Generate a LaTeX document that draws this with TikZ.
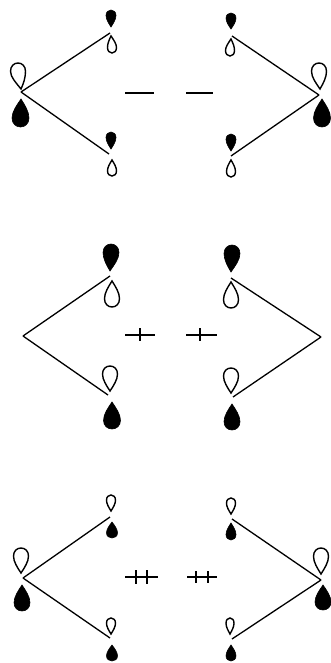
\documentclass[tikz,border=0pt]{standalone}
\usetikzlibrary{calc}
\tikzset{
  bond/.style={draw=black,line width=1.3pt},
  mark bar/.style={draw=black,line width=1.2pt},
  lobe open/.style={draw=black,line width=1.4pt,fill=white},
  lobe full/.style={draw=black,line width=0.6pt,fill=black}
}
% apex x, apex y, centre x, far end y, width, style
\newcommand{\lobe}[6]{
  \draw[#6] (#1,#2) .. controls ({#1+0.3*(#3-#1)-0.24*#5},{#2+0.22*(#4-#2)}) and ({#3-0.5*#5},{#2+0.45*(#4-#2)}) .. ({#3-0.5*#5},{#2+0.68*(#4-#2)})
    .. controls ({#3-0.5*#5},{#2+0.88*(#4-#2)}) and ({#3-0.27*#5},#4) .. (#3,#4)
    .. controls ({#3+0.27*#5},#4) and ({#3+0.5*#5},{#2+0.88*(#4-#2)}) .. ({#3+0.5*#5},{#2+0.68*(#4-#2)})
    .. controls ({#3+0.5*#5},{#2+0.45*(#4-#2)}) and ({#1+0.3*(#3-#1)+0.24*#5},{#2+0.22*(#4-#2)}) .. (#1,#2) -- cycle;
}
\begin{document}
\begin{tikzpicture}[x=1pt,y=-1pt]
\useasboundingbox (0,0) rectangle (331,663);
% ---- bond ends ----
\foreach \n/\x/\y in {A/21/92,At/110/33,Ab/109/154,Bv/319/95,Bt/232/36,Bb/231/156,
    C/23/336,Ct/110/276,Cb/108/395,Dv/321/337,Dt/231/278,Db/233/397,
    E/23/578,Et/110/517,Eb/110/638,Fv/321/580,Ft/232/519,Fb/232/639}{
  \coordinate (\n) at (\x,\y);}
\foreach \a/\b in {A/At,A/Ab,Bv/Bt,Bv/Bb,C/Ct,C/Cb,Dv/Dt,Dv/Db,E/Et,E/Eb,Fv/Ft,Fv/Fb}{
  \draw[bond] (\a)--(\b);}
% ---- top row ----
\foreach \x/\y/\c/\e/\w/\st in {21/89/18/63/15/open,21/99/20.5/127/17/full,
    111/27/111/10/10/full,111/36/112/53/9/open,111/149/111/132/10/full,112/160/112/176/9/open,
    231/29/231/13/10/full,231/39/230/56/9/open,231/151/231/134/10/full,231/160/231/177/9/open,
    320/89/319/63/15/open,322/99/322/127/17/full}{
  \lobe{\x}{\y}{\c}{\e}{\w}{lobe \st}}
% ---- middle row ----
\foreach \x/\y/\c/\e/\w/\st in {110/271/111/244/16/full,112/281/112/307/15/open,
    110/391/110/366/15/open,112/402/112/429/17/full,
    231/272/232/245/16/full,231/282/231/308/15/open,
    231/393/231/368/15/open,232/404/232/430/16/full}{
  \lobe{\x}{\y}{\c}{\e}{\w}{lobe \st}}
% ---- bottom row ----
\foreach \x/\y/\c/\e/\w/\st in {21/573/21/548/15/open,22/585/22/611/16/full,
    111/511/111/495/9/open,112/522/112/538/11/full,111/634/111/618/9/open,112/645/112/661/11/full,
    231/514/231/498/9/open,231/523/231/540/10/full,230/634/230/618/8/open,231/645/231/661/10/full,
    321/574/321/548/15/open,323/585/323/610/16/full}{
  \lobe{\x}{\y}{\c}{\e}{\w}{lobe \st}}
% ---- signs ----
\foreach \a/\b/\y in {125/154/93,186/213/93,125/155/335,186/217/335,125/158/577,187/217/577}{
  \draw[mark bar] (\a,\y)--(\b,\y);}
\foreach \x/\a/\b in {140/328/341,200/328/341,136/570/584,147/570/584,196/571/583,208/571/583}{
  \draw[mark bar] (\x,\a)--(\x,\b);}
\end{tikzpicture}
\end{document}
